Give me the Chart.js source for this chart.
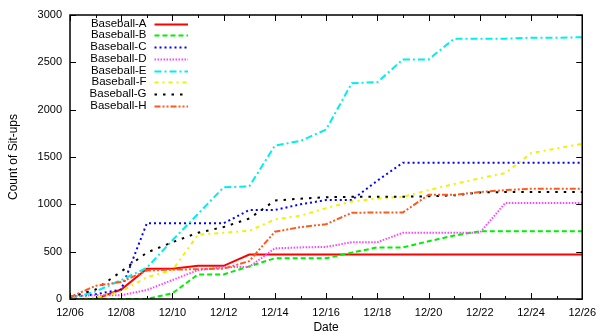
<!DOCTYPE html>
<html>
<head>
<meta charset="utf-8">
<script src="https://cdn.jsdelivr.net/npm/chart.js@4.4.0/dist/chart.umd.min.js"></script>
<style>
html, body { margin: 0; padding: 0; background: #fff; }
</style>
</head>
<body>
<canvas id="situps-chart" width="603" height="333"></canvas>
<script>
// dates, one point per day
var dates = ['12/06', '12/07', '12/08', '12/09', '12/10', '12/11', '12/12', '12/13', '12/14', '12/15', '12/16',
    '12/17', '12/18', '12/19', '12/20', '12/21', '12/22', '12/23', '12/24', '12/25', '12/26'];
var teams = ['Baseball-A', 'Baseball-B', 'Baseball-C', 'Baseball-D', 'Baseball-E', 'Baseball-F', 'Baseball-G', 'Baseball-H'];

var baseballA = [0, 0, 100, 320, 320, 350, 350, 470, 470, 470, 470, 470, 470, 470, 470, 470, 470, 470, 470, 470, 470];
var baseballB = [0, 0, 0, 0, 60, 260, 260, 345, 430, 430, 430, 490, 545, 545, 610, 670, 715, 715, 715, 715, 715];
var baseballC = [20, 50, 100, 800, 800, 800, 800, 940, 940, 1000, 1045, 1045, 1250, 1440, 1440, 1440, 1440, 1440, 1440, 1440, 1440];
var baseballD = [30, 40, 40, 95, 200, 305, 335, 340, 535, 545, 550, 600, 600, 700, 700, 700, 700, 1015, 1015, 1015, 1015];
var baseballE = [0, 80, 200, 330, 620, 900, 1180, 1190, 1620, 1670, 1790, 2280, 2290, 2530, 2530, 2750, 2750, 2750, 2760, 2760, 2765];
var baseballF = [0, 10, 80, 230, 305, 680, 700, 720, 840, 880, 960, 1030, 1060, 1080, 1150, 1215, 1275, 1330, 1540, 1590, 1640];
var baseballG = [20, 100, 290, 490, 600, 700, 760, 850, 1040, 1060, 1075, 1080, 1080, 1080, 1085, 1095, 1125, 1130, 1130, 1130, 1130];
var baseballH = [20, 140, 180, 300, 310, 315, 320, 400, 710, 760, 790, 910, 915, 915, 1100, 1100, 1130, 1150, 1165, 1165, 1165];

var series = [baseballA, baseballB, baseballC, baseballD, baseballE, baseballF, baseballG, baseballH];
var colors = ['#ff0000', '#00ee00', '#0000ff', '#ff44ff', '#00eeee', '#f2f200', '#000000', '#ff5a1e'];
var dashes = [[], [5, 3], [2, 3], [1.5, 1.5], [7, 3, 2, 3], [4, 4, 2, 4], [2.5, 6], [6, 2, 2, 2, 2, 2]];

var tickFont = { family: 'Liberation Sans, Arial, sans-serif', size: 11 };
var titleFont = { family: 'Liberation Sans, Arial, sans-serif', size: 12 };

// box round the plot with ticks pointing in, like gnuplot
var frameTicks = {
    id: 'frameTicks',
    afterDatasetsDraw: function (chart) {
        var c = chart.ctx, a = chart.chartArea;
        var xs = chart.scales.x, ys = chart.scales.y;
        c.save();
        c.strokeStyle = '#000';
        c.lineWidth = 1;
        c.beginPath();
        ys.ticks.forEach(function (t) {
            var py = Math.round(ys.getPixelForValue(t.value)) + 0.5;
            c.moveTo(a.left, py); c.lineTo(a.left + 6, py);
            c.moveTo(a.right, py); c.lineTo(a.right - 6, py);
        });
        dates.forEach(function (d, i) {
            var px = Math.round(xs.getPixelForValue(i)) + 0.5;
            var len = (i % 2 === 0) ? 6 : 3;
            c.moveTo(px, a.bottom); c.lineTo(px, a.bottom - len);
            c.moveTo(px, a.top); c.lineTo(px, a.top + len);
        });
        c.stroke();
        c.lineWidth = 1.5;
        c.strokeRect(a.left, a.top, a.right - a.left, a.bottom - a.top);
        c.restore();
    }
};

// key in the upper left: text right aligned, sample line after it
var gnuKey = {
    id: 'gnuKey',
    afterDraw: function (chart) {
        var c = chart.ctx;
        c.save();
        c.font = '11.5px Liberation Sans, Arial, sans-serif';
        c.textAlign = 'right';
        c.textBaseline = 'middle';
        chart.data.datasets.forEach(function (ds, i) {
            var y = 23.5 + i * 11.75;
            c.fillStyle = '#000';
            c.fillText(ds.label, 146.5, y);
            c.strokeStyle = ds.borderColor;
            c.lineWidth = ds.borderWidth;
            c.setLineDash(ds.borderDash);
            c.beginPath();
            c.moveTo(154.5, Math.round(y) + 0.5);
            c.lineTo(188, Math.round(y) + 0.5);
            c.stroke();
        });
        c.restore();
    }
};

var datasets = [];
teams.forEach(function (name, i) {
    datasets.push({
        label: name,
        data: series[i],
        borderColor: colors[i],
        backgroundColor: colors[i],
        borderDash: dashes[i],
        borderWidth: 2,
        pointRadius: 0,
        tension: 0,
        fill: false,
        order: teams.length - 1 - i
    });
});

var ctx = document.getElementById('situps-chart').getContext('2d');
var myChart = new Chart(ctx, {
    type: 'line',
    data: {
        labels: dates,
        datasets: datasets
    },
    options: {
        responsive: false,
        animation: false,
        layout: { padding: { top: 15, right: 15, left: 0, bottom: 0 } },
        plugins: {
            legend: { display: false },
            tooltip: { enabled: false }
        },
        scales: {
            x: {
                offset: false,
                grid: { display: false, drawTicks: false },
                border: { display: false },
                ticks: {
                    autoSkip: false,
                    maxRotation: 0,
                    padding: 7,
                    color: '#000',
                    font: tickFont,
                    callback: function (v, i) {
                        return i % 2 === 0 ? this.getLabelForValue(v) : '';
                    }
                },
                title: { display: true, text: 'Date', color: '#000', font: titleFont, padding: { top: 0, bottom: -2 } },
                afterFit: function (s) { s.height = 34; }
            },
            y: {
                min: 0,
                max: 3000,
                grid: { display: false, drawTicks: false },
                border: { display: false },
                ticks: {
                    stepSize: 500,
                    padding: 8,
                    color: '#000',
                    font: tickFont,
                    callback: function (v) { return String(v); }
                },
                title: { display: true, text: 'Count of Sit-ups', color: '#000', font: titleFont, padding: { top: 6, bottom: 0 } },
                afterFit: function (s) { s.width = 70; }
            }
        }
    },
    plugins: [frameTicks, gnuKey]
});
</script>
</body>
</html>
